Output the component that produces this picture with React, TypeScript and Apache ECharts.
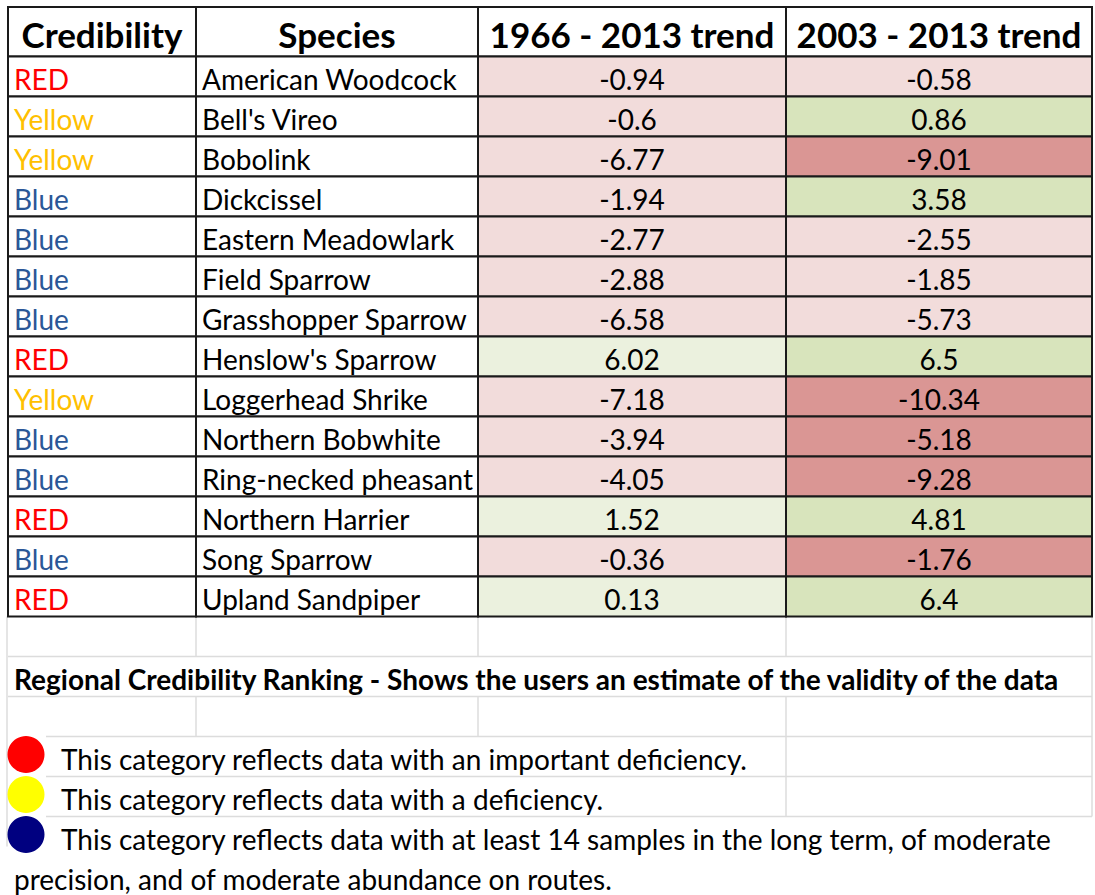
import React, { useEffect, useRef } from "react";
import * as echarts from "echarts";

// ---------- data ----------
const headers = ["Credibility", "Species", "1966 - 2013 trend", "2003 - 2013 trend"];
const credibility = ["RED", "Yellow", "Yellow", "Blue", "Blue", "Blue", "Blue", "RED", "Yellow", "Blue", "Blue", "RED", "Blue", "RED"];
const species = [
  "American Woodcock",
  "Bell's Vireo",
  "Bobolink",
  "Dickcissel",
  "Eastern Meadowlark",
  "Field Sparrow",
  "Grasshopper Sparrow",
  "Henslow's Sparrow",
  "Loggerhead Shrike",
  "Northern Bobwhite",
  "Ring-necked pheasant",
  "Northern Harrier",
  "Song Sparrow",
  "Upland Sandpiper",
];
const trendLong = [-0.94, -0.6, -6.77, -1.94, -2.77, -2.88, -6.58, 6.02, -7.18, -3.94, -4.05, 1.52, -0.36, 0.13];
const trendShort = [-0.58, 0.86, -9.01, 3.58, -2.55, -1.85, -5.73, 6.5, -10.34, -5.18, -9.28, 4.81, -1.76, 6.4];
const rankingTitle = "Regional Credibility Ranking - Shows the users an estimate of the validity of the data";
const legendColors = ["#FF0000", "#FFFF00", "#000080"];
const legendTexts = [
  "This category reflects data with an important deficiency.",
  "This category reflects data with a deficiency.",
  "This category reflects data with at least 14 samples in the long term, of moderate",
];
const legendContinuation = "precision, and of moderate abundance on routes.";

// ---------- styles / layout ----------
const credColors: Record<string, string> = { RED: "#FF0000", Yellow: "#FFC000", Blue: "#2B5797" };
const COL_EDGES = [0, 188, 470, 778, 1084];
const HEADER_TOP = -1.2375;
const FONT = "Lato, 'Open Sans', sans-serif";
const BODY_SIZE = 28;
const HEAD_SIZE = 35;
const TITLE_SIZE = 28;
const BORDER = "#1a1a1a";
const GRIDLINE = "#DCDCDC";

function fillLong(v: number) {
  return v < 0 ? "#F2DCDB" : "#EBF1DE";
}
function fillShort(v: number, long: number) {
  if (v >= 0) return "#D8E4BC";
  return v < long ? "#DA9694" : "#F2DCDB";
}

type Cell = { text: string; fill: string; color: string; align: "left" | "center"; bold: boolean; size: number };

export default function App() {
  const ref = useRef<HTMLDivElement>(null);

  useEffect(() => {
    if (!ref.current) return;
    const chart = echarts.init(ref.current, undefined, { renderer: "svg" });

    // table cells
    const cellData: number[][] = [];
    const cellInfo: Cell[] = [];
    headers.forEach((h, c) => {
      cellData.push([COL_EDGES[c], HEADER_TOP, COL_EDGES[c + 1], 0]);
      cellInfo.push({ text: h, fill: "#FFFFFF", color: "#000000", align: "center", bold: true, size: HEAD_SIZE });
    });
    species.forEach((sp, r) => {
      const row = [
        { text: credibility[r], fill: "#FFFFFF", color: credColors[credibility[r]], align: "left" as const },
        { text: sp, fill: "#FFFFFF", color: "#000000", align: "left" as const },
        { text: String(trendLong[r]), fill: fillLong(trendLong[r]), color: "#000000", align: "center" as const },
        { text: String(trendShort[r]), fill: fillShort(trendShort[r], trendLong[r]), color: "#000000", align: "center" as const },
      ];
      row.forEach((cell, c) => {
        cellData.push([COL_EDGES[c], r, COL_EDGES[c + 1], r + 1]);
        cellInfo.push({ ...cell, bold: false, size: BODY_SIZE });
      });
    });

    // sheet gridlines below the table
    const n = species.length;
    const gridLines: number[][] = [
      [0, n + 1, 1084, n + 1],
      [0, n + 2, 1084, n + 2],
      [38, n + 3, 1084, n + 3],
      [38, n + 4, 1084, n + 4],
      [38, n + 5, 1084, n + 5],
      [188, n, 188, n + 1],
      [470, n, 470, n + 1],
      [778, n, 778, n + 1],
      [188, n + 2, 188, n + 3],
      [470, n + 2, 470, n + 3],
      [778, n + 2, 778, n + 5],
      [1084, n, 1084, n + 5],
      [-1, n, -1, n + 5.75],
    ];

    // notes below the table
    const noteData: number[][] = [[6, n + 1.5], [53, n + 3.5], [53, n + 4.5], [53, n + 5.5], [6, n + 6.5]];
    const noteTexts = [rankingTitle, ...legendTexts, legendContinuation];
    const noteBold = [true, false, false, false, false];

    const option: any = {
      animation: false,
      backgroundColor: "#FFFFFF",
      grid: { left: 8, top: 7, width: 1084, height: 888 },
      xAxis: { type: "value", min: 0, max: 1084, show: false },
      yAxis: { type: "value", min: HEADER_TOP, max: 20.9625, inverse: true, show: false },
      series: [
        {
          type: "custom",
          name: "gridlines",
          data: gridLines,
          silent: true,
          renderItem: (_p: any, api: any) => {
            const a = api.coord([api.value(0), api.value(1)]);
            const b = api.coord([api.value(2), api.value(3)]);
            return {
              type: "line",
              shape: { x1: a[0], y1: a[1], x2: b[0], y2: b[1] },
              style: { stroke: GRIDLINE, lineWidth: 1.5 },
            };
          },
        },
        {
          type: "custom",
          name: "table",
          data: cellData,
          silent: true,
          renderItem: (p: any, api: any) => {
            const info = cellInfo[p.dataIndex];
            const a = api.coord([api.value(0), api.value(1)]);
            const b = api.coord([api.value(2), api.value(3)]);
            const tx = info.align === "left" ? a[0] + 6 : (a[0] + b[0]) / 2;
            const ty = (a[1] + b[1]) / 2 + 2;
            return {
              type: "group",
              children: [
                {
                  type: "rect",
                  shape: { x: a[0], y: a[1], width: b[0] - a[0], height: b[1] - a[1] },
                  style: { fill: info.fill, stroke: BORDER, lineWidth: 2 },
                },
                {
                  type: "text",
                  style: {
                    text: info.text,
                    x: tx,
                    y: ty,
                    fill: info.color,
                    fontSize: info.size,
                    fontFamily: FONT,
                    fontWeight: info.bold ? "bold" : "normal",
                    align: info.align,
                    verticalAlign: "middle",
                  },
                },
              ],
            };
          },
        },
        {
          type: "scatter",
          name: "legend marks",
          silent: true,
          symbol: "circle",
          symbolSize: 37,
          itemStyle: { opacity: 1 },
          data: legendColors.map((c, i) => ({ value: [18, n + 3.45 + i], itemStyle: { color: c, opacity: 1 } })),
        },
        {
          type: "custom",
          name: "notes",
          data: noteData,
          silent: true,
          renderItem: (p: any, api: any) => {
            const a = api.coord([api.value(0), api.value(1)]);
            return {
              type: "text",
              style: {
                text: noteTexts[p.dataIndex],
                x: a[0],
                y: a[1] + 2,
                fill: "#000000",
                fontSize: noteBold[p.dataIndex] ? TITLE_SIZE : BODY_SIZE,
                fontFamily: FONT,
                fontWeight: noteBold[p.dataIndex] ? "bold" : "normal",
                align: "left",
                verticalAlign: "middle",
              },
            };
          },
        },
      ],
    };
    chart.setOption(option);
    return () => chart.dispose();
  }, []);

  return (
    <div
      ref={ref}
      style={{ position: "absolute", left: 0, top: 0, width: 1095, height: 895, background: "#FFFFFF" }}
    />
  );
}
